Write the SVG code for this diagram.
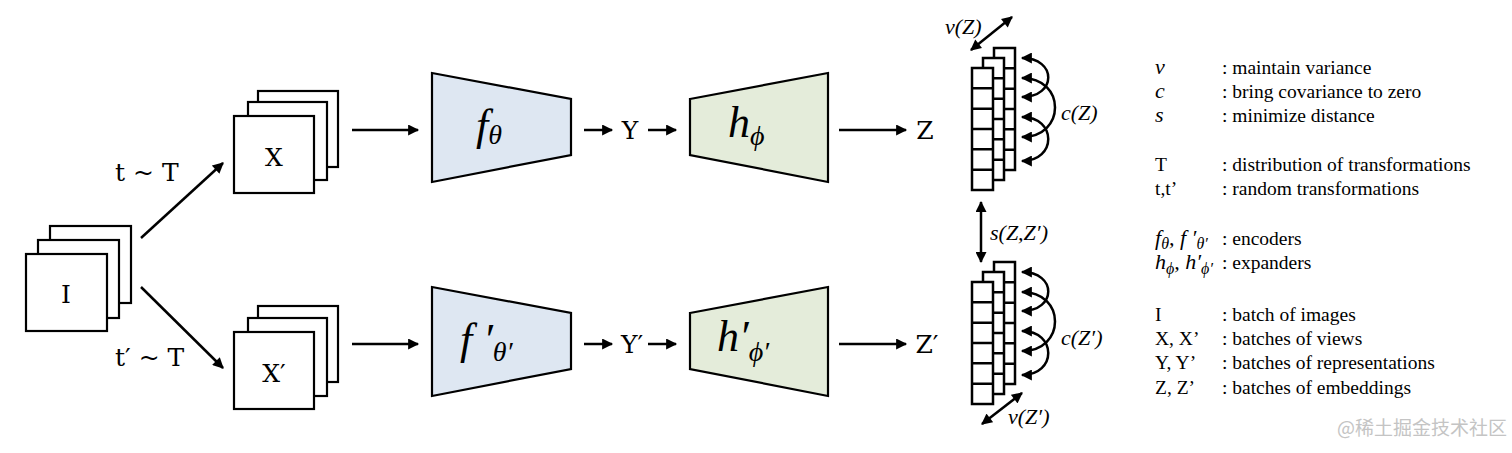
<svg xmlns="http://www.w3.org/2000/svg" width="1512" height="453" viewBox="0 0 1512 453">
<style>
.box{fill:#fff;stroke:#000;stroke-width:2.2}
.cell{fill:#fff;stroke:#000;stroke-width:2.5}
.enc{fill:#dee7f2;stroke:#000;stroke-width:2.2}
.exp{fill:#e4ecda;stroke:#000;stroke-width:2.2}
.ln{fill:none;stroke:#000;stroke-width:2.5}
.lbl{font-family:"DejaVu Serif","Liberation Serif",serif;font-size:25px;fill:#000}
.math{font-family:"Liberation Serif","Times New Roman",serif;font-style:italic;fill:#000}
.leg{font-family:"Liberation Serif","Times New Roman",serif;font-size:19.5px;fill:#000}
.legm{font-family:"Liberation Serif","Times New Roman",serif;font-style:italic;font-size:22px;fill:#000}
.wm{font-family:"Noto Sans CJK SC","Noto Sans",sans-serif;font-size:19px;fill:#c4c4c4}
</style>
<defs>
<marker id="ah" viewBox="0 0 10 10" refX="9" refY="5" markerWidth="12" markerHeight="11" markerUnits="userSpaceOnUse" orient="auto-start-reverse">
<path d="M0,0 L10,5 L0,10 z" fill="#000"/>
</marker>
<g id="col">
<rect class="cell" x="0" y="0" width="21" height="122"/>
<path class="cell" d="M0,20.3H21M0,40.7H21M0,61H21M0,81.3H21M0,101.7H21"/>
</g>
</defs>
<rect width="1512" height="453" fill="#fff"/>

<g id="node-I">
<rect class="box" x="50" y="226" width="81" height="77"/>
<rect class="box" x="38" y="240" width="81" height="78"/>
<rect class="box" x="26" y="254" width="81" height="77"/>
<text class="lbl" x="66" y="303" text-anchor="middle">I</text>
</g>

<g id="node-X">
<rect class="box" x="258" y="91" width="80" height="76"/>
<rect class="box" x="248" y="102" width="79" height="78"/>
<rect class="box" x="234" y="116" width="80" height="77"/>
<text class="lbl" x="274" y="166" text-anchor="middle">X</text>
</g>

<g id="node-Xp">
<rect class="box" x="258" y="306" width="80" height="76"/>
<rect class="box" x="248" y="318" width="79" height="78"/>
<rect class="box" x="234" y="332" width="80" height="77"/>
<text class="lbl" x="274" y="382" text-anchor="middle">X′</text>
</g>

<g id="node-f">
<path class="enc" d="M432,73 L571,99 L571,155 L432,182 z"/>
<text class="math" x="476" y="140" font-size="44">f<tspan font-size="28" dy="4">θ</tspan></text>
</g>

<g id="node-h">
<path class="exp" d="M690,99 L828,73 L828,182 L690,155 z"/>
<text class="math" x="728" y="137" font-size="44">h<tspan font-size="28" dy="8">ϕ</tspan></text>
</g>

<g id="node-fp">
<path class="enc" d="M432,287 L571,313 L571,369 L432,396 z"/>
<text class="math" x="460" y="354" font-size="44">f ′<tspan font-size="28" dy="7">θ′</tspan></text>
</g>

<g id="node-hp">
<path class="exp" d="M690,313 L828,287 L828,396 L690,369 z"/>
<text class="math" x="717" y="351" font-size="44">h′<tspan font-size="28" dy="10">ϕ′</tspan></text>
</g>

<g id="node-Y"><text class="lbl" x="630" y="139" text-anchor="middle">Y</text></g>
<g id="node-Yp"><text class="lbl" x="632" y="353" text-anchor="middle">Y′</text></g>
<g id="node-Z"><text class="lbl" x="925" y="139" text-anchor="middle">Z</text></g>
<g id="node-Zp"><text class="lbl" x="927" y="353" text-anchor="middle">Z′</text></g>

<g id="node-emb">
<use href="#col" x="994" y="48"/>
<use href="#col" x="983" y="58"/>
<use href="#col" x="972" y="68"/>
</g>
<g id="node-embp">
<use href="#col" x="994" y="262"/>
<use href="#col" x="983" y="272"/>
<use href="#col" x="972" y="282"/>
</g>

<g id="connectors">
<path class="ln" d="M141,238 L223,163" marker-end="url(#ah)"/>
<path class="ln" d="M141,287 L223,368" marker-end="url(#ah)"/>
<path class="ln" d="M352,130 L418,130" marker-end="url(#ah)"/>
<path class="ln" d="M584,130 L612,130" marker-end="url(#ah)"/>
<path class="ln" d="M648,130 L676,130" marker-end="url(#ah)"/>
<path class="ln" d="M839,130 L906,130" marker-end="url(#ah)"/>
<path class="ln" d="M352,344 L418,344" marker-end="url(#ah)"/>
<path class="ln" d="M584,344 L612,344" marker-end="url(#ah)"/>
<path class="ln" d="M648,344 L676,344" marker-end="url(#ah)"/>
<path class="ln" d="M839,344 L906,344" marker-end="url(#ah)"/>
<path class="ln" d="M971,50 L1012,17" marker-start="url(#ah)" marker-end="url(#ah)"/>
<path class="ln" d="M982,424 L1022,393" marker-start="url(#ah)" marker-end="url(#ah)"/>
<path class="ln" d="M981,202 L981,262" marker-start="url(#ah)" marker-end="url(#ah)"/>
<path class="ln" d="M1022,58 C1057,58 1057,97 1022,97" marker-start="url(#ah)" marker-end="url(#ah)"/>
<path class="ln" d="M1022,78 C1066,78 1066,137 1022,137" marker-start="url(#ah)" marker-end="url(#ah)"/>
<path class="ln" d="M1022,117 C1057,117 1057,161 1022,161" marker-start="url(#ah)" marker-end="url(#ah)"/>
<path class="ln" d="M1022,272 C1057,272 1057,311 1022,311" marker-start="url(#ah)" marker-end="url(#ah)"/>
<path class="ln" d="M1022,292 C1066,292 1066,351 1022,351" marker-start="url(#ah)" marker-end="url(#ah)"/>
<path class="ln" d="M1022,331 C1057,331 1057,375 1022,375" marker-start="url(#ah)" marker-end="url(#ah)"/>
</g>

<g id="edge-labels">
<text class="lbl" x="115" y="181">t ~ T</text>
<text class="lbl" x="115" y="366">t′ ~ T</text>
<text class="math" x="945" y="34" font-size="22">v(Z)</text>
<text class="math" x="1061" y="120" font-size="22">c(Z)</text>
<text class="math" x="990" y="240" font-size="22">s(Z,Z′)</text>
<text class="math" x="1061" y="345" font-size="22">c(Z′)</text>
<text class="math" x="1008" y="424" font-size="22">v(Z′)</text>
</g>

<g id="legend">
<text class="legm" x="1155" y="74">v</text><text class="leg" x="1222" y="74">: maintain variance</text>
<text class="legm" x="1155" y="98">c</text><text class="leg" x="1222" y="98">: bring covariance to zero</text>
<text class="legm" x="1155" y="122">s</text><text class="leg" x="1222" y="122">: minimize distance</text>
<text class="leg" x="1155" y="171">T</text><text class="leg" x="1222" y="171">: distribution of transformations</text>
<text class="leg" x="1155" y="195">t,t’</text><text class="leg" x="1222" y="195">: random transformations</text>
<text class="legm" x="1155" y="245">f<tspan font-size="16" dy="4">θ</tspan><tspan dy="-4">, f ′</tspan><tspan font-size="16" dy="4">θ′</tspan></text><text class="leg" x="1222" y="245">: encoders</text>
<text class="legm" x="1155" y="269">h<tspan font-size="16" dy="5">ϕ</tspan><tspan dy="-5">, h′</tspan><tspan font-size="16" dy="5">ϕ′</tspan></text><text class="leg" x="1222" y="269">: expanders</text>
<text class="leg" x="1155" y="321">I</text><text class="leg" x="1222" y="321">: batch of images</text>
<text class="leg" x="1155" y="345">X, X’</text><text class="leg" x="1222" y="345">: batches of views</text>
<text class="leg" x="1155" y="369">Y, Y’</text><text class="leg" x="1222" y="369">: batches of representations</text>
<text class="leg" x="1155" y="394">Z, Z’</text><text class="leg" x="1222" y="394">: batches of embeddings</text>
</g>

<g id="watermark"><text class="wm" x="1337" y="435">@稀土掘金技术社区</text></g>
</svg>
